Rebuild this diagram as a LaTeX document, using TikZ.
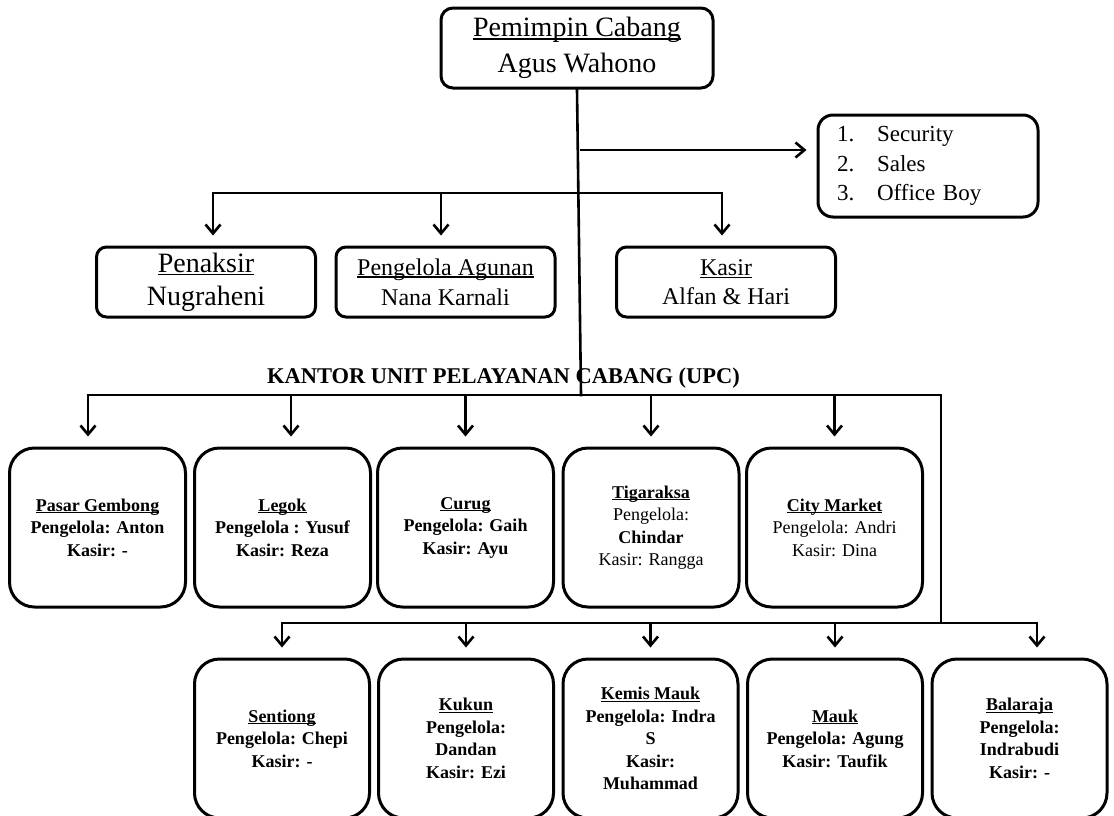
\documentclass[tikz,border=0pt]{standalone}
\usepackage{fontspec}
\setmainfont{Liberation Serif}
\usetikzlibrary{arrows.meta}
\newcommand{\myul}[1]{\setbox0=\hbox{#1}\leavevmode\rlap{\rule[-0.11em]{\wd0}{0.06em}}\box0}
\begin{document}
\begin{tikzpicture}[x=1pt,y=-1pt,
  line/.style={line width=2.6pt,line cap=rect},
  arr/.style={line width=2.6pt,-{Straight Barb[length=9pt,width=15pt]},shorten >=10pt},
  box/.style={draw,line width=3pt,inner sep=0pt,align=center},
  topbox/.style={box,rounded corners=12pt,minimum width=272pt,minimum height=80pt,font=\fontsize{28}{36}\selectfont},
  midbox/.style={box,rounded corners=10pt,minimum width=219pt,minimum height=70pt},
  upcbox/.style={box,rounded corners=25pt,minimum width=176pt,minimum height=159pt,font=\fontsize{18}{22.5}\selectfont\bfseries},
  lowbox/.style={upcbox,minimum width=175pt},
]
\useasboundingbox (0,0) rectangle (1114,815);

% top
\node[topbox] (top) at (577,48) {\myul{Pemimpin Cabang}\\Agus Wahono};
\node[box,rounded corners=15pt,minimum height=102pt,text width=182pt,inner xsep=19pt,align=left,font=\fontsize{23}{29.5}\selectfont] (sec) at (928,166)
  {\makebox[40pt][l]{1.}Security\\\makebox[40pt][l]{2.}Sales\\\makebox[40pt][l]{3.}Office Boy};

% middle
\node[midbox,font=\fontsize{28}{33}\selectfont] (pen) at (206,282) {\myul{Penaksir}\\Nugraheni};
\node[midbox,font=\fontsize{24}{30}\selectfont] (agn) at (445.5,282) {\myul{Pengelola Agunan}\\Nana Karnali};
\node[midbox,font=\fontsize{24}{29}\selectfont] (ksr) at (726,282) {\myul{Kasir}\\Alfan \& Hari};

\node[font=\fontsize{22.5}{27}\selectfont\bfseries,anchor=base,inner sep=0pt] (upc) at (503.5,383) {KANTOR UNIT PELAYANAN CABANG (UPC)};

% UPC row 1
\node[upcbox] (u1) at (97.5,527.5) {\myul{Pasar Gembong}\\Pengelola: Anton\\Kasir: -};
\node[upcbox] (u2) at (282.5,527.5) {\myul{Legok}\\Pengelola : Yusuf\\Kasir: Reza};
\node[upcbox] (u3) at (465.5,527.5) {\myul{Curug}\\Pengelola: Gaih\\Kasir: Ayu};
\node[upcbox] (u4) at (651,527.5) {\myul{Tigaraksa}\\{\mdseries Pengelola:}\\Chindar\\{\mdseries Kasir: Rangga}};
\node[upcbox] (u5) at (834.5,527.5) {\myul{City Market}\\{\mdseries Pengelola: Andri}\\{\mdseries Kasir: Dina}};

% UPC row 2
\node[lowbox] (b1) at (282,738.5) {\myul{Sentiong}\\Pengelola: Chepi\\Kasir: -};
\node[lowbox] (b2) at (466,738.5) {\myul{Kukun}\\Pengelola:\\Dandan\\Kasir: Ezi};
\node[lowbox] (b3) at (650.5,738.5) {\myul{Kemis Mauk}\\Pengelola: Indra\\S\\Kasir:\\Muhammad};
\node[lowbox] (b4) at (835,738.5) {\myul{Mauk}\\Pengelola: Agung\\Kasir: Taufik};
\node[lowbox] (b5) at (1019.5,738.5) {\myul{Balaraja}\\Pengelola:\\Indrabudi\\Kasir: -};

% connectors
\coordinate (mj) at (581,395);
\coordinate (sj) at (580,150);
\coordinate (ml) at (213,193);
\coordinate (mr) at (722,193);
\coordinate (ul) at (88,395);
\coordinate (ur) at (941,395);
\coordinate (lj) at (941,623);
\coordinate (ll) at (282,623);
\coordinate (lr) at (1037,623);

\draw[line] (top.south) -- (mj);
\draw[arr] (sj) -- (sj -| sec.west);

\draw[line] (ml) -- (mr);
\draw[arr] (ml) -- (ml |- pen.north);
\draw[arr] ([xshift=-4.5pt]agn.north |- ml) -- ([xshift=-4.5pt]agn.north);
\draw[arr] (mr) -- (mr |- ksr.north);

\draw[line] (ul) -- (ur) -- (lj);
\draw[arr] (ul) -- (ul |- u1.north);
\draw[arr] ([xshift=8.5pt]u2.north |- ul) -- ([xshift=8.5pt]u2.north);
\draw[arr] (u3.north |- ul) -- (u3.north);
\draw[arr] (u4.north |- ul) -- (u4.north);
\draw[arr] (u5.north |- ul) -- (u5.north);

\draw[line] (ll) -- (lr);
\draw[arr] (ll) -- (ll |- b1.north);
\draw[arr] (b2.north |- ll) -- (b2.north);
\draw[arr] (b3.north |- ll) -- (b3.north);
\draw[arr] (b4.north |- ll) -- (b4.north);
\draw[arr] (lr) -- (lr |- b5.north);
\end{tikzpicture}
\end{document}
